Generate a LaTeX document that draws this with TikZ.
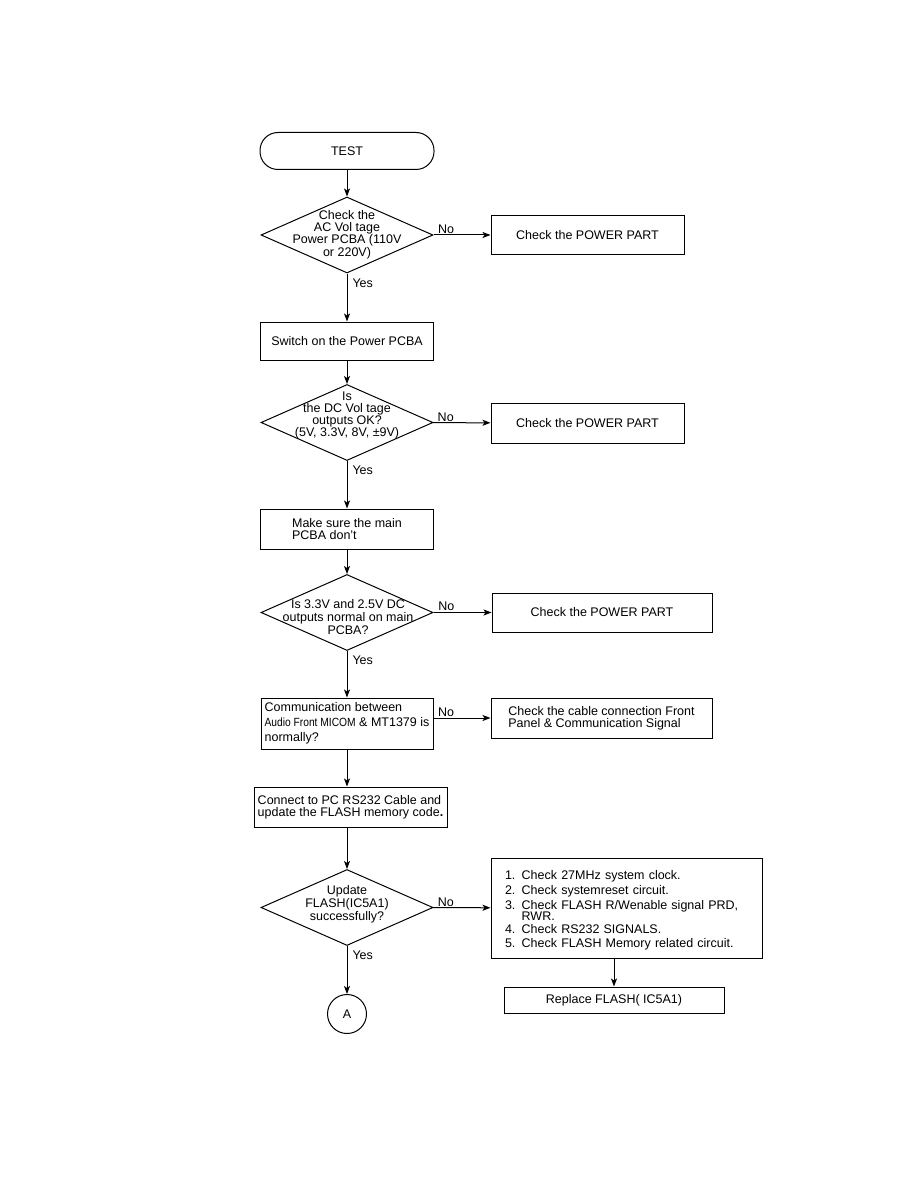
\documentclass[tikz,border=0pt]{standalone}
\usepackage{fontspec}
\setmainfont{Liberation Sans}
\usetikzlibrary{shapes.geometric, arrows.meta, positioning}

\begin{document}
\begin{tikzpicture}[x = 1pt, y = 1pt, line width = 1pt,
	every node/.style = {font = \fontsize{12.5}{12}\selectfont},
	term/.style = {draw, rounded corners = 18pt, minimum width = 174pt, minimum height = 37pt, inner sep = 0pt},
	decide/.style = {draw, diamond, minimum width = 172pt, minimum height = 76pt, inner sep = 0pt},
	dtext/.style = {align = center, inner sep = 0pt},
	proc/.style = {draw, rectangle, align = left, inner sep = 0pt},
	conn/.style = {draw, circle, minimum size = 39pt, inner sep = 0pt},
	arr/.style = {-{Stealth[length = 8pt, width = 6pt, inset = 2pt]}},
	lbl/.style = {inner sep = 1pt}]
			\useasboundingbox (0,0) rectangle (914,-1190);
			\node[term] (test) at (347,-151) {TEST};
			\node[decide] (acv) at (347,-235) {};
			\node[dtext, font = \fontsize{12.5}{11.3}\selectfont] (acvt) at (347,-235)
			{Check the\\AC Vol tage\\Power PCBA (110V\\or 220V)};
			\node[proc, minimum width = 193pt, minimum height = 38pt] (pwra) at (587.5,-235) {Check the POWER PART};
			\node[proc, minimum width = 173pt, minimum height = 38pt] (swon) at (347,-341) {Switch on the Power PCBA};
			\node[decide] (dcv) at (347,-422.5) {};
			\node[dtext, font = \fontsize{12.5}{12}\selectfont] (dcvt) at (347,-415)
			{Is\\the DC Vol tage\\outputs OK?\\(5V, 3.3V, 8V, ±9V)};
			\node[proc, minimum width = 193pt, minimum height = 40pt] (pwrb) at (587.5,-423) {Check the POWER PART};
			\node[proc, minimum width = 173pt, minimum height = 40pt] (mkpc) at (347,-529) {Make sure the main\\PCBA don't};
			\node[decide] (dcm) at (347,-612.5) {};
			\node[dtext, font = \fontsize{12.5}{13.3}\selectfont] (dcmt) at (348,-617)
			{Is 3.3V and 2.5V DC\\outputs normal on main\\PCBA?};
			\node[proc, minimum width = 172pt, minimum height = 51pt,
			font = \fontsize{12.5}{15}\selectfont] (comm) at (347,-723.5)
			{Communication between\\\scalebox{0.82}[0.95]{Audio Front MICOM} \& MT1379 is\\normally?};
			\node[proc, minimum width = 220pt, minimum height = 39pt] (pwrc) at (602,-612.5) {Check the POWER PART};
			\node[proc, minimum width = 221pt, minimum height = 40pt] (cabl) at (601.5,-718)
			{Check the cable connection Front\\Panel \& Communication Signal};
			\node[proc, minimum width = 193pt, minimum height = 40pt] (rsup) at (350.5,-807)
			{Connect to PC RS232 Cable and\\update the FLASH memory code\textbf{.}};
			\node[decide] (fls) at (347,-907.5) {};
			\node[dtext, font = \fontsize{12.5}{13}\selectfont] (flst) at (347,-904)
			{Update\\FLASH(IC5A1)\\successfully?};
			\node[proc, minimum width = 271pt, minimum height = 100pt, text width = 243pt,
			font = \fontsize{12.5}{12.5}\selectfont] (chks) at (626.5,-908)
			{\rule{0pt}{14pt}1. Check 27MHz system clock.\\[2.5pt]
			2. Check systemreset circuit.\\[3pt]
			3. Check FLASH R/Wenable signal PRD,\\[-1.5pt]
			\phantom{3. }RWR.\\[0.5pt]
			4. Check RS232 SIGNALS.\\[1.5pt]
			5. Check FLASH Memory related circuit.};
			\node[proc, minimum width = 220pt, minimum height = 26pt] (repl) at (614,-1000) {Replace FLASH( IC5A1)};
			\node[conn] (ca) at (347,-1014) {A};
			\draw[arr] (test) -- (acv);
			\draw[arr] (acv) -- node[lbl, above, pos = 0.22]{No} (pwra);
			\draw[arr] (acv) -- node[lbl, right = 4pt, pos = 0.2]{Yes} (swon);
			\draw[arr] (swon) -- (dcv);
			\draw[arr] (dcv) -- node[lbl, above, pos = 0.22]{No} (pwrb);
			\draw[arr] (dcv) -- node[lbl, right = 4pt, pos = 0.2]{Yes} (mkpc);
			\draw[arr] (mkpc) -- (dcm);
			\draw[arr] (dcm) -- node[lbl, above, pos = 0.22]{No} (pwrc);
			\draw[arr] (dcm) -- node[lbl, right = 4pt, pos = 0.2]{Yes} (comm);
			\draw[arr] (comm.east |- cabl) -- node[lbl, above, pos = 0.22]{No} (cabl);
			\draw[arr] (comm) -- (comm |- rsup.north);
			\draw[arr] (rsup.south -| fls) -- (fls);
			\draw[arr] (fls) -- node[lbl, above, pos = 0.22]{No} (chks);
			\draw[arr] (fls) -- node[lbl, right = 4pt, pos = 0.2]{Yes} (ca);
			\draw[arr] (chks.south -| repl) -- (repl);
		\end{tikzpicture}
\end{document}
